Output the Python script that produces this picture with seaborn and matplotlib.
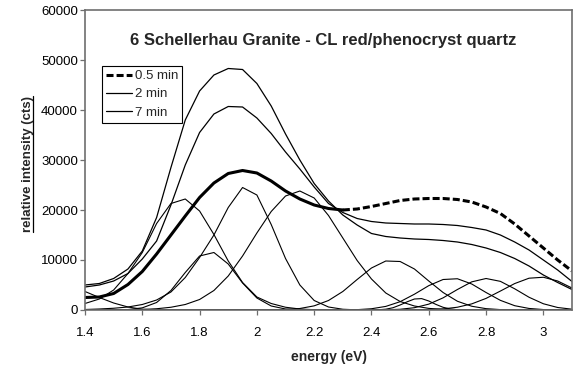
import matplotlib
matplotlib.use("Agg")
import matplotlib.pyplot as plt
import seaborn as sns
from matplotlib.lines import Line2D

# ---------------- data ----------------
energy = [1.40, 1.45, 1.50, 1.55, 1.60, 1.65, 1.70, 1.75, 1.80, 1.85, 1.90, 1.95,
          2.00, 2.05, 2.10, 2.15, 2.20, 2.25, 2.30, 2.35, 2.40, 2.45, 2.50, 2.55,
          2.60, 2.65, 2.70, 2.75, 2.80, 2.85, 2.90, 2.95, 3.00, 3.05, 3.10]

# measured spectra
spec_05min = [2500, 2600, 3300, 5100, 7700, 11200, 15000, 18800, 22500, 25400, 27300, 27900,
              27400, 25800, 23800, 22200, 21000, 20300, 20000, 20200, 20700, 21300, 21900, 22200,
              22300, 22300, 22100, 21600, 20600, 19300, 17200, 14800, 12400, 10000, 7800]
spec_2min = [5000, 5300, 6300, 8200, 11800, 18500, 28500, 38000, 43800, 47000, 48300, 48100,
             45300, 40800, 35200, 30000, 25300, 21800, 19000, 17000, 15300, 14700, 14400, 14200,
             14100, 13900, 13600, 13100, 12400, 11500, 10300, 8800, 7000, 5500, 4100]
spec_7min = [4600, 5000, 5800, 7300, 10200, 13800, 21000, 29000, 35500, 39200, 40700, 40600,
             38400, 35300, 31600, 28200, 24600, 21300, 19500, 18300, 17700, 17400, 17300, 17200,
             17200, 17100, 16900, 16500, 16000, 15000, 13600, 12000, 10000, 8000, 5700]

# fitted gaussian components
comp_a = [3700, 2500, 1400, 600, 150, 30, 0, 0, 0, 0, 0, 0,
          0, 0, 0, 0, 0, 0, 0, 0, 0, 0, 0, 0,
          0, 0, 0, 0, 0, 0, 0, 0, 0, 0, 0]
comp_b = [1300, 2200, 4000, 7300, 11500, 17300, 21300, 22200, 19800, 15100, 9800, 5500,
          2600, 1300, 550, 200, 60, 0, 0, 0, 0, 0, 0, 0,
          0, 0, 0, 0, 0, 0, 0, 0, 0, 0, 0]
comp_c = [0, 0, 15, 90, 430, 1500, 3900, 7500, 10800, 11500, 9200, 5400,
          2400, 800, 200, 40, 0, 0, 0, 0, 0, 0, 0, 0,
          0, 0, 0, 0, 0, 0, 0, 0, 0, 0, 0]
comp_d = [100, 200, 350, 600, 1100, 2000, 3600, 6500, 10500, 15000, 20500, 24500,
          23000, 17100, 10300, 5000, 1900, 600, 150, 30, 0, 0, 0, 0,
          0, 0, 0, 0, 0, 0, 0, 0, 0, 0, 0]
comp_e = [0, 0, 0, 0, 100, 250, 550, 1100, 2100, 3900, 6800, 10800,
          15400, 19700, 22800, 23800, 22400, 18900, 14400, 9900, 6200, 3400, 1700, 800,
          320, 120, 40, 10, 0, 0, 0, 0, 0, 0, 0]
comp_f = [0, 0, 0, 0, 0, 0, 0, 0, 0, 0, 0, 0,
          0, 25, 100, 300, 830, 1900, 3700, 6100, 8400, 9800, 9700, 8200,
          5800, 3500, 1750, 750, 270, 80, 20, 0, 0, 0, 0]
comp_h = [0, 0, 0, 0, 0, 0, 0, 0, 0, 0, 0, 0,
          0, 0, 0, 0, 0, 0, 15, 70, 250, 720, 1660, 3160,
          4870, 6100, 6250, 5200, 3500, 1930, 860, 310, 90, 20, 5]
comp_i = [0, 0, 0, 0, 0, 0, 0, 0, 0, 0, 0, 0,
          0, 0, 0, 0, 0, 0, 0, 0, 8, 40, 145, 460,
          1170, 2430, 4100, 5630, 6300, 5730, 4240, 2550, 1250, 500, 160]
comp_j = [0, 0, 0, 0, 0, 0, 0, 0, 0, 0, 0, 0,
          0, 0, 0, 0, 0, 0, 0, 0, 0, 0, 5, 20,
          70, 215, 555, 1225, 2320, 3790, 5290, 6360, 6550, 5800, 4400]
# narrow small component (finer sampling)
energy_g = [2.40, 2.425, 2.45, 2.475, 2.50, 2.525, 2.55, 2.575, 2.60, 2.625, 2.65, 2.675, 2.70, 2.725, 2.75]
comp_g = [10, 50, 160, 450, 1000, 1650, 2200, 2280, 1800, 1120, 540, 210, 60, 15, 0]

series_labels = ["0.5 min", "2 min", "7 min"]
title = "6 Schellerhau Granite - CL red/phenocryst quartz"
x_label = "energy (eV)"
y_label = "relative intensity (cts)"
x_ticks = [1.4, 1.6, 1.8, 2.0, 2.2, 2.4, 2.6, 2.8, 3.0]
x_ticklabels = ["1.4", "1.6", "1.8", "2", "2.2", "2.4", "2.6", "2.8", "3"]
y_ticks = [0, 10000, 20000, 30000, 40000, 50000, 60000]
y_ticklabels = ["0", "10000", "20000", "30000", "40000", "50000", "60000"]

# ---------------- style ----------------
sns.set_style("white")
plt.rcParams["font.family"] = ["Liberation Sans", "DejaVu Sans"]

W, H = 577, 372
fig = plt.figure(figsize=(W / 100, H / 100), dpi=100)
ax = fig.add_axes([85 / W, 1 - 310 / H, (572 - 85) / W, 300 / H])

thin = 0.8
for comp in [comp_a, comp_b, comp_c, comp_d, comp_e, comp_f, comp_h, comp_i, comp_j]:
    sns.lineplot(x=energy, y=comp, ax=ax, color="black", lw=thin, sort=False,
                 estimator=None, legend=False)
sns.lineplot(x=energy_g, y=comp_g, ax=ax, color="black", lw=thin, sort=False,
             estimator=None, legend=False)

sns.lineplot(x=energy, y=spec_2min, ax=ax, color="black", lw=0.9, sort=False,
             estimator=None, legend=False)
sns.lineplot(x=energy, y=spec_7min, ax=ax, color="black", lw=0.9, sort=False,
             estimator=None, legend=False)

dash = (0, (2.3, 1.0))
split = energy.index(2.30)
sns.lineplot(x=energy[:split + 1], y=spec_05min[:split + 1], ax=ax, color="black",
             lw=2.2, sort=False, estimator=None, legend=False)
sns.lineplot(x=energy[split:], y=spec_05min[split:], ax=ax, color="black",
             lw=2.2, sort=False, estimator=None, legend=False, linestyle=dash)

ax.set_xlim(1.4, 3.1)
ax.set_ylim(0, 60000)
ax.set_xticks(x_ticks)
ax.set_xticklabels(x_ticklabels)
ax.set_yticks(y_ticks)
ax.set_yticklabels(y_ticklabels)

spine_col = "#6e6e6e"
for s in ax.spines.values():
    s.set_color(spine_col)
    s.set_linewidth(1.2)
ax.tick_params(axis="both", which="major", bottom=True, left=True, direction="out",
               length=3.6, width=0.9, color=spine_col, labelsize=9.5, labelcolor="black")
ax.tick_params(axis="x", pad=9)
ax.tick_params(axis="y", pad=1.5)

ax.text(0.489, 0.883, title, transform=ax.transAxes, ha="center", va="baseline",
        fontsize=12, fontweight="bold")

ax.set_xlabel(x_label, fontsize=10, fontweight="bold")
ax.xaxis.set_label_coords(0.501, -0.132)
ax.set_ylabel(y_label, fontsize=9.5, fontweight="bold")
ax.yaxis.set_label_coords(-0.1047, 0.488)

handles = [Line2D([], [], color="black", lw=2.2, linestyle=dash),
           Line2D([], [], color="black", lw=0.9),
           Line2D([], [], color="black", lw=0.9)]
leg = ax.legend(handles, series_labels, loc="upper left", bbox_to_anchor=(0.034, 0.813),
                borderaxespad=0, frameon=True, fancybox=False, edgecolor="black",
                framealpha=1, fontsize=9.5, handlelength=2.0, handletextpad=0.2,
                borderpad=0.3, labelspacing=0.45)
leg.get_frame().set_linewidth(0.8)

# underline of the y label
fig.canvas.draw()
bb = ax.yaxis.label.get_window_extent(fig.canvas.get_renderer())
ux = (bb.x1 - 1.0) / W
fig.add_artist(Line2D([ux, ux], [bb.y0 / H, bb.y1 / H], color="black", lw=0.9,
                      transform=fig.transFigure))

fig.savefig("out.png", dpi=100, facecolor="white")
